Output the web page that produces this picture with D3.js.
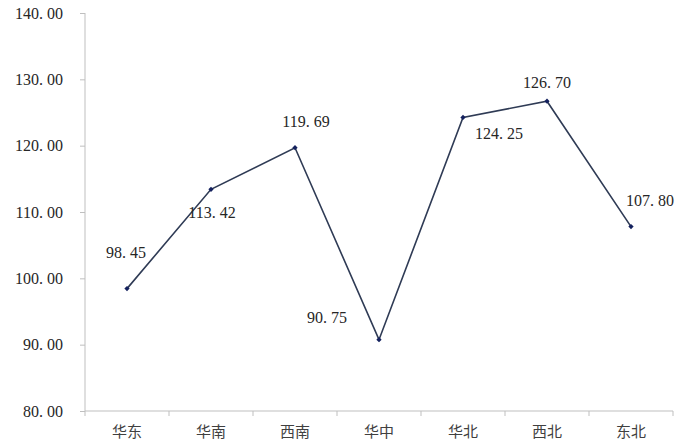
<!DOCTYPE html>
<html><head><meta charset="utf-8">
<script src="https://cdn.jsdelivr.net/npm/d3@7/dist/d3.min.js"></script>
<style>body{margin:0;background:#fff}svg{display:block}</style>
</head><body>
<svg id="c" width="685" height="445"></svg>
<script>
const categories = ["华东","华南","西南","华中","华北","西北","东北"];
const values = [98.45, 113.42, 119.69, 90.75, 124.25, 126.70, 107.80];
const yTicks = [80, 90, 100, 110, 120, 130, 140];
// label placement relative to each point (layout only)
const labelDx = [-1, 1, 11, -52, 36, 0, 19];
const labelDy = [-37, 23, -27, -23, 16, -19, -27];

const svg = d3.select("#c");
const x = d3.scaleBand().domain(categories).range([85, 673]);
const y = d3.scaleLinear().domain([80, 140]).range([411, 13]);
const axisColor = "#bfbfbf";
const serif = "Liberation Serif, Times New Roman, DejaVu Serif, serif";

function splitNum(g, v){
  const s = v.toFixed(2).split(".");
  g.text(null);
  g.append("tspan").text(s[0] + ".");
  g.append("tspan").attr("dx", 4).text(s[1]);
}

// Y axis
const yAxis = svg.append("g").attr("transform","translate(85,0)")
  .call(d3.axisLeft(y).tickValues(yTicks).tickSize(5).tickPadding(17));
yAxis.select(".domain").attr("stroke", axisColor).attr("d","M0,13V411");
yAxis.selectAll(".tick line").attr("stroke", axisColor);
yAxis.selectAll(".tick text").style("font-family", serif).style("font-size", "16px")
  .attr("fill","#262626").each(function(d){ splitNum(d3.select(this), d); });

// X axis
const xAxis = svg.append("g").attr("transform","translate(0,411)")
  .call(d3.axisBottom(x).tickSize(0).tickPadding(15));
xAxis.select(".domain").attr("stroke", axisColor).attr("d","M85,0H673");
xAxis.selectAll(".tick text").style("font-family","Noto Sans CJK SC, sans-serif")
  .style("font-size", "15px").attr("fill","#404040");
const bounds = categories.map(c => x(c)).concat([x(categories[categories.length-1]) + x.bandwidth()]);
xAxis.selectAll(".bnd").data(bounds).enter().append("line")
  .attr("x1", d => d).attr("x2", d => d).attr("y1", 0).attr("y2", 5)
  .attr("stroke", axisColor);

const cx = c => x(c) + x.bandwidth()/2;
const pts = categories.map((c,i) => ({c, v: values[i], i}));

svg.append("path").datum(pts)
  .attr("fill","none").attr("stroke","#2f3b55").attr("stroke-width",1.6)
  .attr("d", d3.line().x(d => cx(d.c)).y(d => y(d.v)));

svg.selectAll(".mk").data(pts).enter().append("path")
  .attr("transform", d => `translate(${cx(d.c)},${y(d.v)}) rotate(45)`)
  .attr("d", d3.symbol().type(d3.symbolSquare).size(14))
  .attr("fill","#14215e");

svg.selectAll(".lbl").data(pts).enter().append("text")
  .attr("x", d => cx(d.c) + labelDx[d.i])
  .attr("y", d => y(d.v) + labelDy[d.i])
  .attr("text-anchor","middle").attr("dominant-baseline","central")
  .style("font-family", serif).style("font-size", "16px").attr("fill","#262626")
  .each(function(d){ splitNum(d3.select(this), d.v); });
</script>
</body></html>
